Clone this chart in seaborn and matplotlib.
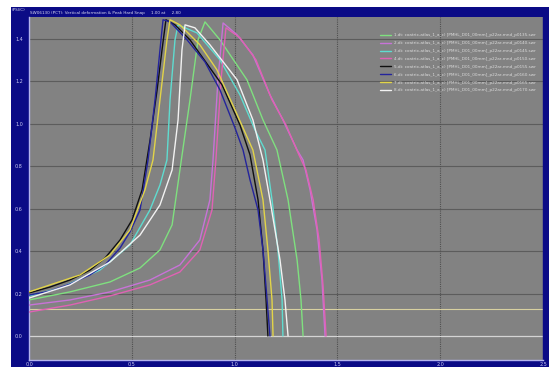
import numpy as np
import pandas as pd
import matplotlib
matplotlib.use("Agg")
import matplotlib.pyplot as plt
import seaborn as sns
from matplotlib.patches import Rectangle
from matplotlib.lines import Line2D

# --- series data -----------------------------------------------------------
series_names = [
    "1.dt: coatrix-atlas_1_a_c) [PMHL_D01_00mm]_p22ar-mnd_p0135.swr",
    "2.dt: coatrix-atlas_1_a_c) [PMHL_D01_00mm]_p22ar-mnd_p0140.swr",
    "3.dt: coatrix-atlas_1_a_c) [PMHL_D01_00mm]_p22ar-mnd_p0145.swr",
    "4.dt: coatrix-atlas_1_a_c) [PMHL_D01_00mm]_p22ar-mnd_p0150.swr",
    "5.dt: coatrix-atlas_1_a_c) [PMHL_D01_00mm]_p22ar-mnd_p0155.swr",
    "6.dt: coatrix-atlas_1_a_c) [PMHL_D01_00mm]_p22ar-mnd_p0160.swr",
    "7.dt: coatrix-atlas_1_a_c) [PMHL_D01_00mm]_p22ar-mnd_p0165.swr",
    "8.dt: coatrix-atlas_1_a_c) [PMHL_D01_00mm]_p22ar-mnd_p0170.swr",
]
series_colors = ["#7fe07f", "#c873d8", "#5fdcd0", "#e062b4",
                 "#101010", "#24249c", "#e2d448", "#f2f2f2"]

green_x = [0, .199, .394, .540, .637, .696, .734, .783, .822, .856,
           .929, 1.060, 1.138, 1.206, 1.260, 1.304, 1.323, 1.333]
green_y = [.170, .208, .255, .321, .406, .524, .783, 1.113, 1.396, 1.481,
           1.396, 1.208, 1.019, .877, .642, .358, .170, 0]

violet_x = [0, .199, .394, .588, .734, .831, .880, .895, .919, .944,
            1.012, 1.089, 1.172, 1.235, 1.304, 1.333, 1.367, 1.401, 1.425, 1.440]
violet_y = [.146, .170, .208, .264, .335, .453, .642, .830, 1.208, 1.476,
            1.420, 1.325, 1.137, 1.019, .877, .830, .689, .500, .264, 0]

cyan_x = [0, .151, .345, .491, .588, .637, .671, .686, .710, .725,
          .817, .929, 1.026, 1.099, 1.148, 1.182, 1.211, 1.231, 1.235]
cyan_y = [.189, .226, .311, .429, .594, .712, .830, 1.113, 1.396, 1.467,
          1.429, 1.302, 1.137, .972, .877, .642, .406, .170, 0]

pink_x = [0, .199, .394, .588, .734, .831, .890, .909, .934, .958,
          1.026, 1.104, 1.182, 1.250, 1.313, 1.347, 1.382, 1.411, 1.430, 1.445]
pink_y = [.113, .146, .189, .241, .302, .406, .594, .830, 1.208, 1.453,
          1.406, 1.302, 1.113, .995, .854, .783, .642, .453, .241, 0]

black_x = [0, .102, .199, .297, .370, .443, .501, .550, .589, .623, .647, .666,
           .710, .783, .939, 1.026, 1.075, 1.114, 1.138, 1.153, 1.162]
black_y = [.203, .231, .264, .311, .368, .453, .547, .689, .925, 1.160, 1.349, 1.491,
           1.467, 1.396, 1.184, .995, .854, .642, .406, .170, 0]

blue_x = [0, .102, .199, .296, .370, .443, .491, .540, .579, .613, .637, .652,
          .686, .769, .856, .929, 1.002, 1.041, 1.075, 1.114, 1.138, 1.158, 1.172]
blue_y = [.193, .212, .245, .288, .335, .415, .491, .594, .830, 1.113, 1.349, 1.491,
          1.481, 1.396, 1.292, 1.160, .981, .877, .736, .594, .406, .170, 0]

yellow_x = [0, .248, .394, .491, .564, .603, .637, .671, .686,
            .734, .831, .914, 1.002, 1.089, 1.138, 1.162, 1.182, 1.187]
yellow_y = [.208, .288, .382, .500, .689, .830, 1.113, 1.396, 1.491,
            1.467, 1.373, 1.255, 1.066, .877, .642, .406, .170, 0]

white_x = [0, .199, .394, .540, .637, .696, .725, .744, .759,
           .807, .880, 1.012, 1.089, 1.138, 1.172, 1.221, 1.245, 1.260]
white_y = [.179, .241, .349, .476, .618, .783, 1.019, 1.349, 1.467,
           1.453, 1.373, 1.208, 1.019, .830, .642, .358, .170, 0]

x_ticks = [0.0, 0.5, 1.0, 1.5, 2.0, 2.5]
x_tick_labels = ["0.0", "0.5", "1.0", "1.5", "2.0", "2.5"]
y_ticks = [0.0, 0.2, 0.4, 0.6, 0.8, 1.0, 1.2, 1.4]
y_tick_labels = ["0.0", "0.2", "0.4", "0.6", "0.8", "1.0", "1.2", "1.4"]
limit_level = 0.127

title_text = "SW06130 (PCT): Vertical deformation & Peak Hard Snap     1.00 at     2.80"
unit_text = "(PSI/C)"

all_x = [green_x, violet_x, cyan_x, pink_x, black_x, blue_x, yellow_x, white_x]
all_y = [green_y, violet_y, cyan_y, pink_y, black_y, blue_y, yellow_y, white_y]

frames = []
for name, xs, ys in zip(series_names, all_x, all_y):
    frames.append(pd.DataFrame({"t": xs, "v": ys, "run": name}))
df = pd.concat(frames, ignore_index=True)

# --- figure ----------------------------------------------------------------
sns.set_style("dark")
plt.rcParams["font.family"] = ["DejaVu Sans"]

W, H = 553, 367
fig = plt.figure(figsize=(W / 100, H / 100), dpi=100, facecolor="white")

# dark blue window panel behind the plotting area
navy = "#0b0b86"
fig.patches.append(Rectangle((11 / W, 0), (549 - 11) / W, (H - 7) / H,
                             transform=fig.transFigure, facecolor=navy,
                             edgecolor="none", zorder=-5))

ax = fig.add_axes([29 / W, 7 / H, (543 - 29) / W, (360 - 17) / H])
ax.set_zorder(1)
ax.set_facecolor("#828282")

# grid
for yv in y_ticks[1:]:
    ax.axhline(yv, color="#5c5c5c", lw=0.8, zorder=1)
for xv in x_ticks[1:-1]:
    ax.axvline(xv, color="#505050", lw=0.8, ls=(0, (1, 1)), zorder=1)
ax.axhline(0.0, color="#d4d4d4", lw=0.9, zorder=1)
ax.axhline(limit_level, color="#d8d0a0", lw=0.8, zorder=1)

palette = dict(zip(series_names, series_colors))
sns.lineplot(data=df, x="t", y="v", hue="run", palette=palette,
             estimator=None, sort=False, lw=1.0, ax=ax, legend=False, zorder=3)

ax.set_xlim(0, 2.5)
ax.set_ylim(-0.113, 1.504)
ax.set_xlabel("")
ax.set_ylabel("")
ax.set_xticks(x_ticks)
ax.set_xticklabels(x_tick_labels)
ax.set_yticks(y_ticks)
ax.set_yticklabels(y_tick_labels)
ax.tick_params(axis="both", colors="#c8c8f0", labelsize=3.5, length=1.5,
               width=0.6, direction="out")
ax.tick_params(axis="y", pad=3)
ax.tick_params(axis="x", pad=0.3)
for s in ax.spines.values():
    s.set_color("#b4b4ee")
    s.set_linewidth(1.0)
ax.spines["top"].set_visible(False)
ax.spines["right"].set_color(navy)

handles = [Line2D([0], [0], color=c, lw=1.0) for c in series_colors]
leg = ax.legend(handles, series_names, loc="upper right",
                bbox_to_anchor=(0.99, 0.96), frameon=False, fontsize=2.95,
                handlelength=2.6, handletextpad=0.6, labelspacing=0.95,
                borderaxespad=0.2)
for t in leg.get_texts():
    t.set_color("#dcdcdc")

fig.text(30 / W, 1 - 13 / H, title_text, fontsize=3.0, color="#d8d8f0",
         va="center", ha="left")
fig.text(19 / W, 1 - 10 / H, unit_text, fontsize=3.0, color="#d8d8f0",
         va="center", ha="center")

fig.savefig("out.png", dpi=100, facecolor=fig.get_facecolor())
